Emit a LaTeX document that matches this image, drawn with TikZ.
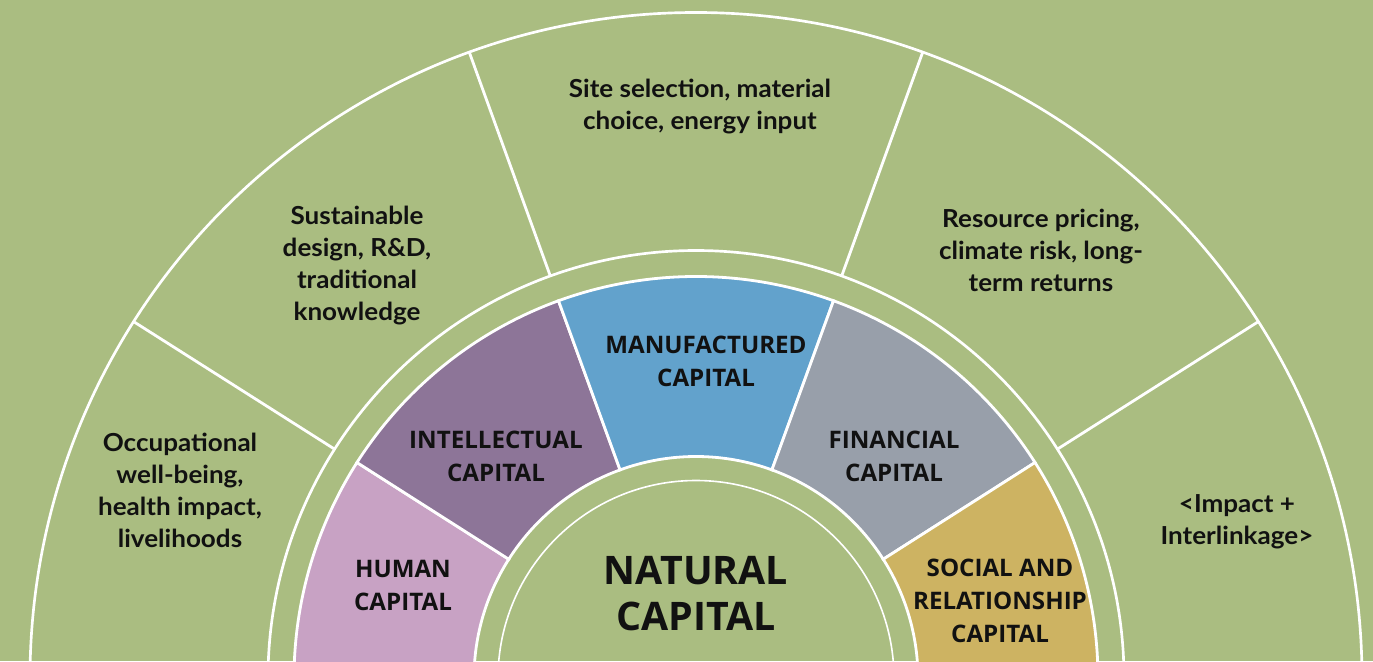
\documentclass[tikz,border=0pt]{standalone}
\usepackage{fontspec}
\usepackage{tikz}
\newfontfamily\capfont{Open Sans}
\newfontfamily\notefont{Lato}[FakeStretch=1.05]
\definecolor{leaf}{RGB}{170,189,129}
\definecolor{humanc}{RGB}{200,162,196}
\definecolor{intelc}{RGB}{141,117,152}
\definecolor{manuc}{RGB}{98,162,204}
\definecolor{finc}{RGB}{152,159,170}
\definecolor{socc}{RGB}{205,179,98}
\definecolor{ink}{RGB}{17,17,17}
\tikzset{
  ring/.style={draw=white, line width=2pt},
  thinring/.style={draw=white, line width=1.2pt},
  spoke/.style={draw=white, line width=2.1pt},
  seg/.style={draw=white, line width=2.1pt, line join=miter},
  note/.style={align=center, text=ink,
               font=\notefont\bfseries\fontsize{18.6}{24}\selectfont},
  capbox/.style={align=center, text=ink,
              font=\capfont\bfseries\fontsize{18.1}{24.75}\selectfont},
  core/.style={align=center, text=ink,
               font=\capfont\bfseries\fontsize{29.5}{35}\selectfont},
}
% start angle, end angle, colour
\newcommand{\capsector}[3]{%
  \filldraw[seg, fill=#3] (#1:222) -- (#1:402)
    arc[start angle=#1, end angle=#2, radius=402] -- (#2:222)
    arc[start angle=#2, end angle=#1, radius=222] -- cycle;}

\begin{document}
\begin{tikzpicture}[x=0.75pt, y=0.75pt]
  \useasboundingbox (-696,17.5) rectangle (677,678.5);
  \clip (-696,17.5) rectangle (677,678.5);
  \fill[leaf] (-696,17.5) rectangle (677,678.5);
  % outer ring of impacts
  \draw[ring] (0,0) circle[radius=666];
  \draw[ring] (0,0) circle[radius=428];
  \foreach \a in {32.4,70.1,109.9,147.6}
    \draw[spoke] (\a:428) -- (\a:666);
  % the capitals
  \capsector{147.5}{200}{humanc}
  \capsector{110}{147.5}{intelc}
  \capsector{70}{110}{manuc}
  \capsector{32.5}{70}{finc}
  \capsector{-20}{32.5}{socc}
  \draw[thinring] (0,0) circle[radius=198];

  \node[note] (site) at (4,571.5) {Site selection, material\\choice, energy input};
  \node[note] (design) at (-339,412.5) {Sustainable\\design, R\&D,\\traditional\\knowledge};
  \node[note] (pricing) at (345,428.5) {Resource pricing,\\climate risk, long-\\term returns};
  \node[note] (wellbeing) at (-516,188.5) {Occupational\\well-being,\\health impact,\\livelihoods};
  \node[note] (linkage) at (541,156.5) {<Impact +\\Interlinkage>};

  \node[capbox] (human) at (-293,93.5) {HUMAN\\CAPITAL};
  \node[capbox] (intel) at (-200,222.5) {INTELLECTUAL\\CAPITAL};
  \node[capbox] (manu) at (10,317.5) {MANUFACTURED\\CAPITAL};
  \node[capbox] (fin) at (198,222.5) {FINANCIAL\\CAPITAL};
  \node[capbox] (social) at (304,77.5) {SOCIAL AND\\RELATIONSHIP\\CAPITAL};
  \node[core] (natural) at (0,85) {NATURAL\\CAPITAL};
\end{tikzpicture}
\end{document}
